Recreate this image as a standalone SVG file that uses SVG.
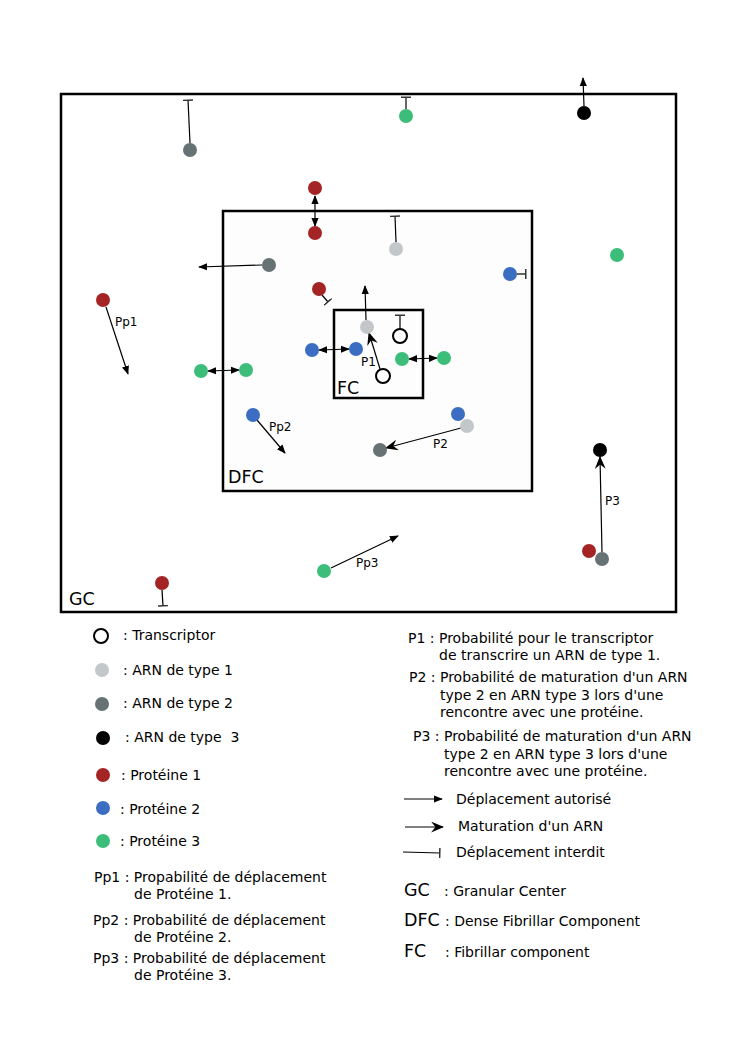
<svg xmlns="http://www.w3.org/2000/svg" width="745" height="1053" viewBox="0 0 745 1053">
<defs>
<marker id="arr" viewBox="0 0 10 10" refX="9" refY="5" markerWidth="9" markerHeight="9" markerUnits="userSpaceOnUse" orient="auto-start-reverse">
<path d="M0,1 L10,5 L0,9 Z" fill="#000"/>
</marker>
<marker id="mat" viewBox="0 0 12 10" refX="11" refY="5" markerWidth="13" markerHeight="11" markerUnits="userSpaceOnUse" orient="auto">
<path d="M0,0 L12,5 L0,10 L4,5 Z" fill="#000"/>
</marker>
<marker id="bar" viewBox="0 0 2 10" refX="1" refY="5" markerWidth="2" markerHeight="10" markerUnits="userSpaceOnUse" orient="auto">
<rect x="0" y="0" width="1.5" height="10" fill="#333"/>
</marker>
</defs>
<style>
.box{fill:none;stroke:#000;stroke-width:2.5}
.c{stroke:#000;stroke-width:1.2;fill:none}
.r{fill:#a42425}.b{fill:#3b6ec2}.g{fill:#3dbd7a}.l{fill:#c2c8ca}.d{fill:#667273}.k{fill:#000}
.t{fill:none;stroke:#000;stroke-width:2}
text{font-family:"DejaVu Sans",sans-serif;font-size:14px;fill:#000}
.big{font-size:17.5px}
.sm{font-size:12px}
</style>
<rect width="745" height="1053" fill="#fff"/>
<g id="GC"><rect class="box" x="61" y="94" width="615" height="518"/><text class="big" x="69" y="605">GC</text></g>
<g id="DFC"><rect x="223" y="211" width="309" height="280" fill="#fdfdfd" stroke="#000" stroke-width="2.5"/><text class="big" x="228" y="483">DFC</text></g>
<g id="FC"><rect class="box" x="334" y="310" width="89" height="88"/><text class="big" x="337" y="394">FC</text></g>

<g id="connectors">
<line class="c" x1="190" y1="143" x2="188" y2="100" marker-end="url(#bar)"/>
<line class="c" x1="406" y1="109" x2="406" y2="97" marker-end="url(#bar)"/>
<line class="c" x1="584" y1="106" x2="583" y2="78" marker-end="url(#arr)"/>
<line class="c" x1="315" y1="196" x2="315" y2="226" marker-start="url(#arr)" marker-end="url(#arr)"/>
<line class="c" x1="396" y1="242" x2="395" y2="216" marker-end="url(#bar)"/>
<line class="c" x1="262" y1="265" x2="199" y2="267" marker-end="url(#arr)"/>
<line class="c" x1="517" y1="274" x2="526" y2="274" marker-end="url(#bar)"/>
<line class="c" x1="106" y1="307" x2="128" y2="374" marker-end="url(#arr)"/>
<line class="c" x1="322" y1="295" x2="328" y2="302" marker-end="url(#bar)"/>
<line class="c" x1="366" y1="320" x2="365" y2="286" marker-end="url(#arr)"/>
<line class="c" x1="400" y1="329" x2="400" y2="315" marker-end="url(#bar)"/>
<line class="c" x1="380" y1="369" x2="369" y2="333" marker-end="url(#mat)"/>
<line class="c" x1="319" y1="350" x2="349" y2="349" marker-start="url(#arr)" marker-end="url(#arr)"/>
<line class="c" x1="409" y1="359" x2="437" y2="358" marker-start="url(#arr)" marker-end="url(#arr)"/>
<line class="c" x1="208" y1="371" x2="239" y2="370" marker-start="url(#arr)" marker-end="url(#arr)"/>
<line class="c" x1="257" y1="420" x2="285" y2="453" marker-end="url(#arr)"/>
<line class="c" x1="461" y1="428" x2="386" y2="448" marker-end="url(#mat)"/>
<line class="c" x1="602" y1="552" x2="600" y2="457" marker-end="url(#mat)"/>
<line class="c" x1="331" y1="568" x2="398" y2="536" marker-end="url(#arr)"/>
<line class="c" x1="162" y1="590" x2="163" y2="606" marker-end="url(#bar)"/>
<text class="sm" x="115" y="326">Pp1</text>
<text class="sm" x="361" y="366">P1</text>
<text class="sm" x="269" y="431">Pp2</text>
<text class="sm" x="433" y="448">P2</text>
<text class="sm" x="605" y="505">P3</text>
<text class="sm" x="356" y="567">Pp3</text>
</g>

<g id="nodes">
<circle id="n1" class="d" cx="190" cy="150" r="7"/>
<circle id="n2" class="g" cx="406" cy="116" r="7"/>
<circle id="n3" class="k" cx="584" cy="113" r="7"/>
<circle id="n4" class="r" cx="315" cy="188" r="7"/>
<circle id="n5" class="r" cx="315" cy="233" r="7"/>
<circle id="n6" class="l" cx="396" cy="249" r="7"/>
<circle id="n7" class="d" cx="269" cy="265" r="7"/>
<circle id="n8" class="b" cx="510" cy="274" r="7"/>
<circle id="n9" class="g" cx="617" cy="255" r="7"/>
<circle id="n10" class="r" cx="103" cy="300" r="7"/>
<circle id="n11" class="r" cx="319" cy="289" r="7"/>
<circle id="n12" class="l" cx="367" cy="327" r="7"/>
<circle id="n13" class="t" cx="400" cy="336" r="7"/>
<circle id="n14" class="t" cx="383" cy="376" r="7"/>
<circle id="n15" class="b" cx="312" cy="350" r="7"/>
<circle id="n16" class="b" cx="356" cy="349" r="7"/>
<circle id="n17" class="g" cx="402" cy="359" r="7"/>
<circle id="n18" class="g" cx="444" cy="358" r="7"/>
<circle id="n19" class="g" cx="201" cy="371" r="7"/>
<circle id="n20" class="g" cx="246" cy="370" r="7"/>
<circle id="n21" class="b" cx="253" cy="415" r="7"/>
<circle id="n22" class="b" cx="458" cy="414" r="7"/>
<circle id="n23" class="l" cx="467" cy="426" r="7"/>
<circle id="n24" class="d" cx="380" cy="450" r="7"/>
<circle id="n25" class="k" cx="600" cy="450" r="7"/>
<circle id="n26" class="r" cx="589" cy="551" r="7"/>
<circle id="n27" class="d" cx="602" cy="559" r="7"/>
<circle id="n28" class="g" cx="324" cy="571" r="7"/>
<circle id="n29" class="r" cx="162" cy="583" r="7"/>
</g>

<g id="legend">
<circle class="t" cx="101" cy="636" r="7"/><text x="123" y="640">: Transcriptor</text>
<circle class="l" cx="102" cy="670" r="7"/><text x="123" y="675">: ARN de type 1</text>
<circle class="d" cx="102" cy="704" r="7"/><text x="123" y="708">: ARN de type 2</text>
<circle class="k" cx="103" cy="738" r="7"/><text x="125" y="742" xml:space="preserve">: ARN de type  3</text>
<circle class="r" cx="103" cy="775" r="7"/><text x="121" y="780">: Protéine 1</text>
<circle class="b" cx="103" cy="808" r="7"/><text x="120" y="814">: Protéine 2</text>
<circle class="g" cx="103" cy="841" r="7"/><text x="120" y="846">: Protéine 3</text>

<text x="408" y="643">P1 : Probabilité pour le transcriptor</text>
<text x="439" y="660">de transcrire un ARN de type 1.</text>
<text x="409" y="682">P2 : Probabilité de maturation d'un ARN</text>
<text x="440" y="700">type 2 en ARN type 3 lors d'une</text>
<text x="440" y="717">rencontre avec une protéine.</text>
<text x="413" y="741">P3 : Probabilité de maturation d'un ARN</text>
<text x="444" y="759">type 2 en ARN type 3 lors d'une</text>
<text x="444" y="776">rencontre avec une protéine.</text>

<line class="c" x1="404" y1="799" x2="442" y2="799" marker-end="url(#arr)"/>
<text x="456" y="804">Déplacement autorisé</text>
<line class="c" x1="405" y1="827" x2="443" y2="827" marker-end="url(#mat)"/>
<text x="458" y="831">Maturation d'un ARN</text>
<line class="c" x1="403" y1="852" x2="440" y2="853" marker-end="url(#bar)"/>
<text x="456" y="857">Déplacement interdit</text>

<text x="94" y="882">Pp1 : Propabilité de déplacement</text>
<text x="134" y="899">de Protéine 1.</text>
<text x="93" y="925">Pp2 : Probabilité de déplacement</text>
<text x="134" y="942">de Protéine 2.</text>
<text x="93" y="963">Pp3 : Probabilité de déplacement</text>
<text x="134" y="980">de Protéine 3.</text>

<text class="big" x="404" y="896">GC</text><text x="444" y="896">: Granular Center</text>
<text class="big" x="404" y="926">DFC</text><text x="445" y="926">: Dense Fibrillar Component</text>
<text class="big" x="404" y="957">FC</text><text x="445" y="957">: Fibrillar component</text>
</g>
</svg>
